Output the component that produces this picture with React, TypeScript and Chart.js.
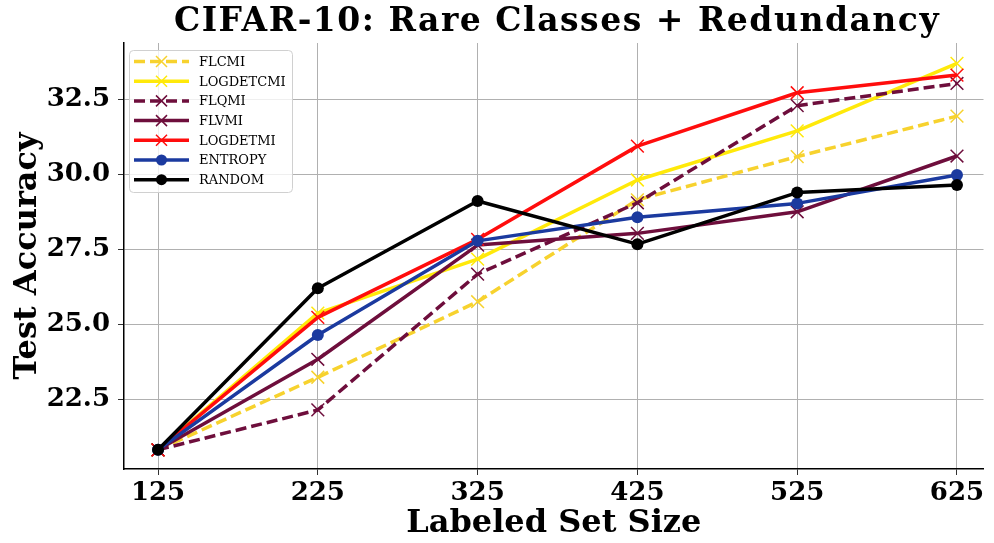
import React, { useEffect, useRef } from "react";
import { Chart, registerables } from "chart.js";

Chart.register(...registerables);

const titleText = "CIFAR-10: Rare Classes + Redundancy";
const sizes = [125, 225, 325, 425, 525, 625];
const flcmi = [20.81, 23.23, 25.75, 29.15, 30.59, 31.94];
const logdetcmi = [20.81, 25.37, 27.17, 29.81, 31.45, 33.7];
const flqmi = [20.81, 22.14, 26.67, 29.05, 32.29, 33.03];
const flvmi = [20.81, 23.83, 27.64, 28.03, 28.75, 30.61];
const logdetmi = [20.81, 25.23, 27.83, 30.94, 32.72, 33.31];
const entropy = [20.81, 24.64, 27.78, 28.57, 29.03, 29.98];
const random = [20.81, 26.2, 29.11, 27.67, 29.39, 29.64];
const yTicks = [22.5, 25, 27.5, 30, 32.5];

const seriesNames = ["FLCMI", "LOGDETCMI", "FLQMI", "FLVMI", "LOGDETMI", "ENTROPY", "RANDOM"];
const seriesValues = [flcmi, logdetcmi, flqmi, flvmi, logdetmi, entropy, random];
const seriesColors = ["#F7D22E", "#FFE90A", "#6E0E3C", "#6E0E3C", "#FF0D0D", "#1B3A9F", "#000000"];
const seriesDashed = [true, false, true, false, false, false, false];
const seriesMarker = ["x", "x", "x", "x", "x", "o", "o"];

const SERIF = "'DejaVu Serif', serif";

const titlePlugin = {
  id: "axesTitle",
  afterDraw(chart: any) {
    const ctx = chart.ctx;
    const a = chart.chartArea;
    ctx.save();
    ctx.fillStyle = "#000";
    ctx.font = `bold 33px ${SERIF}`;
    try { (ctx as any).letterSpacing = "1.5px"; } catch (e) {}
    ctx.textAlign = "center";
    ctx.textBaseline = "alphabetic";
    ctx.fillText(titleText, (a.left + 990) / 2, 31);
    ctx.restore();
  },
};

const legendPlugin = {
  id: "boxLegend",
  afterDraw(chart: any) {
    const ctx = chart.ctx;
    const x0 = 129.5, y0 = 50.5, w = 163, h = 142;
    ctx.save();
    ctx.beginPath();
    ctx.roundRect(x0, y0, w, h, 4);
    ctx.fillStyle = "rgba(255,255,255,0.8)";
    ctx.fill();
    ctx.strokeStyle = "#d0d0d0";
    ctx.lineWidth = 1;
    ctx.stroke();
    chart.data.datasets.forEach((ds: any, i: number) => {
      const y = 61.5 + i * 19.7;
      ctx.strokeStyle = ds.borderColor;
      ctx.lineWidth = 3.5;
      ctx.setLineDash(ds.borderDash || []);
      ctx.lineCap = "butt";
      ctx.beginPath();
      ctx.moveTo(134, y);
      ctx.lineTo(189, y);
      ctx.stroke();
      ctx.setLineDash([]);
      const cx = 161.5;
      if (ds.pointStyle === "crossRot") {
        ctx.lineWidth = 1.5;
        ctx.beginPath();
        ctx.moveTo(cx - 5.5, y - 5.5);
        ctx.lineTo(cx + 5.5, y + 5.5);
        ctx.moveTo(cx - 5.5, y + 5.5);
        ctx.lineTo(cx + 5.5, y - 5.5);
        ctx.stroke();
      } else {
        ctx.fillStyle = ds.borderColor;
        ctx.beginPath();
        ctx.arc(cx, y, 5.5, 0, Math.PI * 2);
        ctx.fill();
      }
      ctx.fillStyle = "#000";
      ctx.font = `13px ${SERIF}`;
      ctx.textBaseline = "middle";
      ctx.textAlign = "left";
      ctx.fillText(ds.label, 199, y + 1);
    });
    ctx.restore();
  },
};

export default function App() {
  const ref = useRef<HTMLCanvasElement | null>(null);
  useEffect(() => {
    document.body.style.margin = "0";
    const datasets = seriesNames.map((name, i) => ({
      label: name,
      data: sizes.map((s, j) => ({ x: s, y: seriesValues[i][j] })),
      borderColor: seriesColors[i],
      backgroundColor: seriesColors[i],
      borderWidth: 3.5,
      borderDash: seriesDashed[i] ? [11, 5] : [],
      borderJoinStyle: "round",
      pointStyle: seriesMarker[i] === "x" ? "crossRot" : "circle",
      pointRadius: seriesMarker[i] === "x" ? 9 : 6,
      pointBorderWidth: seriesMarker[i] === "x" ? 1.5 : 0,
      pointBackgroundColor: seriesColors[i],
      pointBorderColor: seriesColors[i],
      order: seriesNames.length - 1 - i,
      tension: 0,
    }));
    const chart = new Chart(ref.current as HTMLCanvasElement, {
      type: "line",
      data: { datasets } as any,
      options: {
        animation: false,
        responsive: false,
        layout: { padding: { top: 43, right: 4, left: 0, bottom: 0 } },
        plugins: {
          legend: { display: false },
          tooltip: { enabled: false },
          title: { display: false },
        },
        scales: {
          x: {
            type: "linear",
            min: 103.7,
            max: 641.6,
            afterFit: (s: any) => { s.height = 74; },
            afterBuildTicks: (s: any) => { s.ticks = sizes.map((v) => ({ value: v })); },
            ticks: {
              color: "#000",
              font: { family: SERIF, size: 26, weight: "bold" },
              padding: 3,
              maxRotation: 0,
              callback: (v: any) => String(v),
            },
            grid: { color: "#b0b0b0", lineWidth: 1, tickLength: 6, tickColor: "#333", drawTicks: true },
            border: { display: true, color: "#000", width: 1.5 },
            title: {
              display: true,
              text: "Labeled Set Size",
              color: "#000",
              font: { family: SERIF, size: 32, weight: "bold", lineHeight: 1.2 },
              padding: { top: 0, bottom: 0 },
            },
          },
          y: {
            type: "linear",
            min: 20.17,
            max: 34.38,
            afterFit: (s: any) => { s.width = 124; },
            afterBuildTicks: (s: any) => { s.ticks = yTicks.map((v) => ({ value: v })); },
            ticks: {
              color: "#000",
              font: { family: SERIF, size: 26, weight: "bold" },
              padding: 8,
              callback: (v: any) => Number(v).toFixed(1),
            },
            grid: { color: "#b0b0b0", lineWidth: 1, tickLength: 6, tickColor: "#333", drawTicks: true },
            border: { display: true, color: "#000", width: 1.5 },
            title: {
              display: true,
              text: "Test Accuracy",
              color: "#000",
              font: { family: SERIF, size: 32, weight: "bold", lineHeight: 1.2 },
              padding: { top: 8, bottom: 0 },
            },
          },
        },
      } as any,
      plugins: [legendPlugin, titlePlugin],
    });
    return () => chart.destroy();
  }, []);
  return (
    <div style={{ position: "fixed", left: 0, top: 0, width: 994, height: 543, background: "#fff" }}>
      <canvas ref={ref} width={994} height={543} style={{ display: "block" }} />
    </div>
  );
}
